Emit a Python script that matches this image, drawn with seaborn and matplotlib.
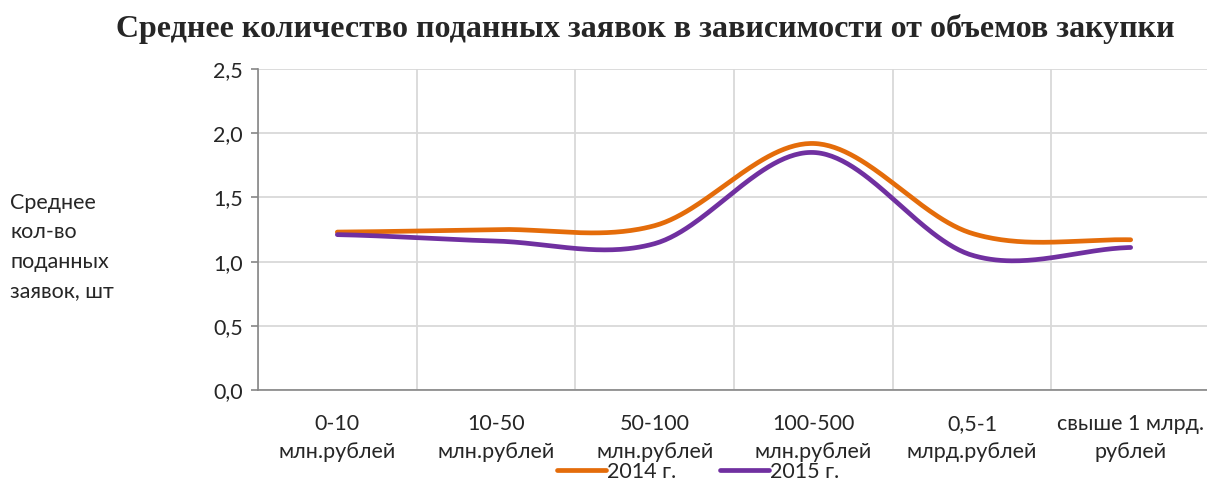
import numpy as np
import pandas as pd
import matplotlib
matplotlib.use('Agg')
import matplotlib.pyplot as plt
import seaborn as sns
from matplotlib.ticker import FuncFormatter

# Data
categories = ['0-10\nмлн.рублей', '10-50\nмлн.рублей', '50-100\nмлн.рублей',
              '100-500\nмлн.рублей', '0,5-1\nмлрд.рублей', 'свыше 1 млрд.\nрублей']
vals_2014 = [1.23, 1.25, 1.28, 1.92, 1.22, 1.17]
vals_2015 = [1.21, 1.16, 1.14, 1.85, 1.05, 1.11]
series_names = ['2014 г.', '2015 г.']
colors = ['#E46C0A', '#7030A0']


def smooth(values, n=60):
    # Catmull-Rom spline, similar to Excel "smoothed line"
    p = np.r_[values[0], values, values[-1]]
    xs, ys = [], []
    for i in range(1, len(p) - 2):
        t = np.linspace(0, 1, n, endpoint=False)
        m1 = (p[i + 1] - p[i - 1]) / 2
        m2 = (p[i + 2] - p[i]) / 2
        h00 = 2 * t**3 - 3 * t**2 + 1
        h10 = t**3 - 2 * t**2 + t
        h01 = -2 * t**3 + 3 * t**2
        h11 = t**3 - t**2
        xs.append(i - 1 + t)
        ys.append(h00 * p[i] + h10 * m1 + h01 * p[i + 1] + h11 * m2)
    xs.append([len(values) - 1])
    ys.append([values[-1]])
    return np.concatenate(xs), np.concatenate(ys)


frames = []
for name, vals in zip(series_names, [vals_2014, vals_2015]):
    sx, sy = smooth(vals)
    frames.append(pd.DataFrame({'x': sx, 'y': sy, 'series': name}))
df = pd.concat(frames, ignore_index=True)

sns.set_style('white')
plt.rcParams['font.family'] = ['Lato', 'DejaVu Sans']
fs = 15.5

fig = plt.figure(figsize=(12.07, 4.84), dpi=100)
ax = fig.add_axes([258 / 1207, 94 / 484, 952 / 1207, 321 / 484])

sns.lineplot(data=df, x='x', y='y', hue='series', palette=colors,
             linewidth=3.4, ax=ax, sort=False, legend=True)
for line in ax.lines:
    line.set_solid_capstyle('round')

ax.set_xlim(-0.5, 5.5)
ax.set_ylim(0, 2.5)
ax.set_yticks(np.arange(0, 2.51, 0.5))
ax.yaxis.set_major_formatter(FuncFormatter(lambda v, _: f'{v:.1f}'.replace('.', ',')))
ax.grid(True, axis='y', color='#d9d9d9', linewidth=1.3)

# boundaries (gridlines + ticks) and category labels at centres
ax.set_xticks(np.arange(-0.5, 5.6, 1))
ax.set_xticklabels([])
ax.set_xticks(np.arange(6), labels=categories, minor=True)
ax.grid(True, axis='x', which='major', color='#d9d9d9', linewidth=1.3)
ax.tick_params(axis='x', which='major', length=6, color='#868686', width=1.2)
ax.tick_params(axis='x', which='minor', length=0, pad=17, labelsize=fs)
ax.tick_params(axis='y', length=5, color='#868686', width=1.2, pad=6, labelsize=fs,
               left=True)
for lbl in ax.get_xticklabels(minor=True):
    lbl.set_linespacing(1.5)

for s in ['top', 'right']:
    ax.spines[s].set_visible(False)
for s in ['left', 'bottom']:
    ax.spines[s].set_color('#868686')
    ax.spines[s].set_linewidth(1.2)
ax.set_xlabel('')
ax.set_ylabel('')

fig.text(10 / 1207, 1 - 247 / 484, 'Среднее\nкол-во\nподанных\nзаявок, шт',
         ha='left', va='center', fontsize=fs, linespacing=1.6)

fig.text(645 / 1207, 1 - 29 / 484,
         'Среднее количество поданных заявок в зависимости от объемов закупки',
         ha='center', va='center', fontsize=23, fontweight='bold',
         family=['Liberation Serif', 'DejaVu Serif'])

ax.get_legend().remove()
handles = ax.get_lines()[:2]
fig.legend(handles, series_names, loc='center', bbox_to_anchor=(698 / 1207, 1 - 472 / 484),
           ncol=2, frameon=False, fontsize=fs, handlelength=2.3, handletextpad=0.05,
           columnspacing=2.0, borderpad=0)

fig.savefig('out.png', dpi=100)
